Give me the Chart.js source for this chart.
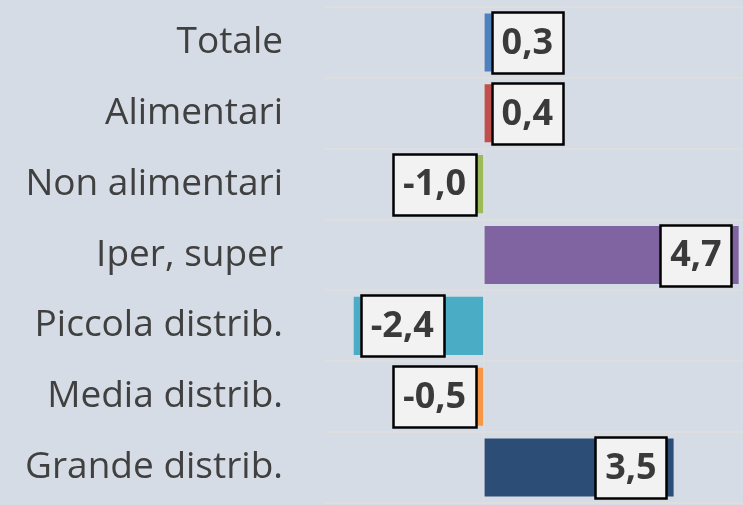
<!DOCTYPE html>
<html>
<head>
<meta charset="utf-8">
<script src="https://cdn.jsdelivr.net/npm/chart.js@4/dist/chart.umd.min.js"></script>
<style>
  html, body { margin: 0; padding: 0; background: #D6DCE5; overflow: hidden; }
  #wrap { width: 743px; height: 505px; position: relative; }
</style>
</head>
<body>
<div id="wrap"><canvas id="chart"></canvas></div>
<script>
// dati
const categories = ["Totale", "Alimentari", "Non alimentari", "Iper, super", "Piccola distrib.", "Media distrib.", "Grande distrib."];
const values = [0.3, 0.4, -1.0, 4.7, -2.4, -0.5, 3.5];

const barColors = ["#4F81BD", "#C0504D", "#9BBB59", "#8064A2", "#4BACC6", "#F79646", "#2C4D75"];

// etichette a riquadro sulle barre
const boxLabels = {
  id: "boxLabels",
  afterDatasetsDraw(chart) {
    const ctx = chart.ctx;
    const meta = chart.getDatasetMeta(0);
    const gap = 7;
    const padX = 10;
    const boxH = 61;
    ctx.save();
    ctx.font = "bold 36px 'Open Sans'";
    ctx.textBaseline = "middle";
    ctx.textAlign = "center";
    meta.data.forEach((bar, i) => {
      const v = values[i];
      const txt = v.toFixed(1).replace(".", ",");
      const boxW = ctx.measureText(txt).width + padX * 2;
      const len = Math.abs(bar.x - bar.base);
      let left;
      if (len >= boxW + gap * 2) {
        // dentro, all'estremità
        left = v >= 0 ? bar.x - gap - boxW : bar.x + gap;
      } else {
        // vicino alla base
        left = v >= 0 ? bar.base + gap : bar.base - gap - boxW;
      }
      const top = bar.y - boxH / 2;
      ctx.fillStyle = "#F2F2F2";
      ctx.fillRect(left, top, boxW, boxH);
      ctx.lineWidth = 2.5;
      ctx.strokeStyle = "#000000";
      ctx.strokeRect(Math.round(left) + 0.5, Math.round(top) + 0.5, Math.round(boxW), Math.round(boxH));
      ctx.fillStyle = "#3A3A3A";
      ctx.fillText(txt, left + boxW / 2, bar.y + 1);
    });
    ctx.restore();
  }
};

Chart.defaults.font.family = "'Open Sans', sans-serif";

new Chart(document.getElementById("chart"), {
  type: "bar",
  data: {
    labels: categories,
    datasets: [{
      data: values,
      backgroundColor: barColors,
      borderWidth: 0,
      categoryPercentage: 1,
      barPercentage: 0.82
    }]
  },
  options: {
    indexAxis: "y",
    responsive: true,
    maintainAspectRatio: false,
    animation: false,
    layout: { padding: { top: 7, bottom: 2, left: 0, right: 0 } },
    plugins: {
      legend: { display: false },
      tooltip: { enabled: false }
    },
    scales: {
      x: {
        min: -2.93,
        max: 4.78,
        ticks: { display: false },
        border: { display: false },
        grid: {
          drawTicks: false,
          lineWidth: 1.5,
          color: (c) => (c.tick && c.tick.value === 0 ? "#DDDDDD" : "rgba(0,0,0,0)")
        }
      },
      y: {
        afterFit: (scale) => {
          scale.width = 325;
          // niente spazio extra sopra/sotto per le etichette
          scale.paddingTop = 0;
          scale.paddingBottom = 0;
        },
        ticks: {
          color: "#404040",
          padding: 42,
          font: { size: 37 }
        },
        border: { display: false },
        grid: {
          drawTicks: false,
          color: "#DEDEDE",
          lineWidth: 2
        }
      }
    }
  },
  plugins: [boxLabels]
});
</script>
</body>
</html>
